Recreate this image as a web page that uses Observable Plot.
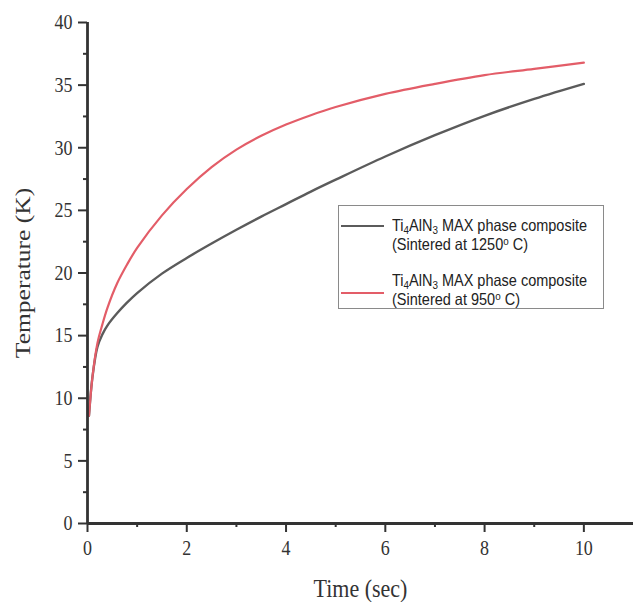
<!DOCTYPE html>
<html>
<head>
<meta charset="utf-8">
<script src="https://cdn.jsdelivr.net/npm/d3@7"></script>
<script src="https://cdn.jsdelivr.net/npm/@observablehq/plot@0.6"></script>
<style>
  html, body { margin: 0; padding: 0; background: #fff; }
  #wrap { position: relative; width: 633px; height: 602px; overflow: hidden; }
  #legend { position: absolute; left: 338px; top: 205px; width: 266px; height: 104px;
    border: 1px solid #8a8a8a; box-sizing: border-box; font-family: "Liberation Sans", Arial, sans-serif;
    font-size: 14.5px; color: #222; }
  #legend .swatch { position: absolute; left: 2px; width: 43px; height: 2px; }
  #legend .txt { position: absolute; left: 53px; line-height: 17.4px; white-space: nowrap;
    transform: scaleY(1.15); transform-origin: 0 13.7px; }
  #legend sub { font-size: 0.68em; vertical-align: -0.28em; line-height: 0; }
  #legend sup { font-size: 0.68em; vertical-align: 0.45em; line-height: 0; }
</style>
</head>
<body>
<div id="wrap"></div>
<script>
// --- data ---
const time = [0.03, 0.1, 0.2, 0.3, 0.4, 0.6, 0.8, 1, 1.5, 2, 2.5, 3, 3.5, 4, 4.5, 5, 6, 7, 8, 9, 10];
const temp1250 = [8.6, 11.7, 14.1, 15.1, 15.8, 16.8, 17.65, 18.4, 19.95, 21.2, 22.35, 23.45, 24.5, 25.5, 26.5, 27.45, 29.3, 31.0, 32.55, 33.9, 35.1];
const temp950 = [8.6, 11.7, 14.4, 15.9, 17.2, 19.2, 20.7, 22.0, 24.6, 26.7, 28.45, 29.85, 30.95, 31.85, 32.6, 33.25, 34.3, 35.1, 35.8, 36.3, 36.8];
const seriesNames = ["Ti4AlN3 MAX phase composite (Sintered at 1250° C)", "Ti4AlN3 MAX phase composite (Sintered at 950° C)"];
const seriesColors = ["#5b5b5b", "#e35d68"];
const xTicks = [0, 2, 4, 6, 8, 10];
const xMinorTicks = [1, 3, 5, 7, 9];
const yTicks = [0, 5, 10, 15, 20, 25, 30, 35, 40];
const yMinorTicks = [2.5, 7.5, 12.5, 17.5, 22.5, 27.5, 32.5, 37.5];
const xLabel = "Time (sec)";
const yLabel = "Temperature (K)";

const rows1250 = time.map((t, i) => ({time: t, temp: temp1250[i], series: seriesNames[0]}));
const rows950 = time.map((t, i) => ({time: t, temp: temp950[i], series: seriesNames[1]}));

const axisColor = "#333";
const chart = Plot.plot({
  width: 633,
  height: 602,
  marginLeft: 87,
  marginRight: 0,
  marginTop: 22,
  marginBottom: 79,
  style: {fontFamily: "'Liberation Serif', 'Times New Roman', serif", fontSize: "18px", color: axisColor, background: "#fff", overflow: "visible"},
  x: {domain: [0, 11]},
  y: {domain: [0, 40]},
  marks: [
    Plot.line(rows1250, {x: "time", y: "temp", stroke: seriesColors[0], strokeWidth: 2.4, curve: "catmull-rom"}),
    Plot.line(rows950, {x: "time", y: "temp", stroke: seriesColors[1], strokeWidth: 2.2, curve: "catmull-rom"}),
    Plot.ruleX([0], {stroke: axisColor, strokeWidth: 2.8}),
    Plot.ruleY([0], {stroke: axisColor, strokeWidth: 2.8}),
    Plot.axisX(xTicks, {tickSize: 9, tickPadding: 8, strokeWidth: 2, stroke: axisColor, fontSize: 18,
      label: xLabel, labelAnchor: "center", labelArrow: "none", labelOffset: 73}),
    Plot.axisX(xMinorTicks, {tickSize: 4, strokeWidth: 2, stroke: axisColor, tickFormat: () => "", label: null}),
    Plot.axisY(yTicks, {tickSize: 9, tickPadding: 6, strokeWidth: 2, stroke: axisColor, fontSize: 18,
      label: yLabel, labelAnchor: "center", labelArrow: "none", labelOffset: 73}),
    Plot.axisY(yMinorTicks, {tickSize: 4, strokeWidth: 2, stroke: axisColor, tickFormat: () => "", label: null})
  ]
});

document.getElementById("wrap").appendChild(chart);

// The reference glyphs are slightly stretched vertically; mimic that.
const stretch = (sel, sx, sy, fs) => {
  chart.querySelectorAll(sel).forEach(t => {
    if (fs) t.setAttribute("font-size", fs);
    const tr = t.getAttribute("transform");
    if (tr) t.setAttribute("transform", tr + ` scale(${sx},${sy})`);
  });
};
stretch('g[aria-label="x-axis tick label"] text', 1, 1.17);
stretch('g[aria-label="y-axis tick label"] text', 1, 1.17);
stretch('g[aria-label="x-axis label"] text', 1, 1.17, 22);
stretch('g[aria-label="y-axis label"] text', 1.16, 1, 22);

// Legend (HTML overlay)
const legend = document.createElement("div");
legend.id = "legend";
legend.innerHTML = `
  <div class="swatch" style="top:19px;background:${seriesColors[0]}"></div>
  <div class="txt" style="top:12px">Ti<sub>4</sub>AlN<sub>3</sub> MAX phase composite<br>(Sintered at 1250<sup>o</sup> C)</div>
  <div class="swatch" style="top:86px;background:${seriesColors[1]}"></div>
  <div class="txt" style="top:67px">Ti<sub>4</sub>AlN<sub>3</sub> MAX phase composite<br>(Sintered at 950<sup>o</sup> C)</div>`;
document.getElementById("wrap").appendChild(legend);
</script>
</body>
</html>
